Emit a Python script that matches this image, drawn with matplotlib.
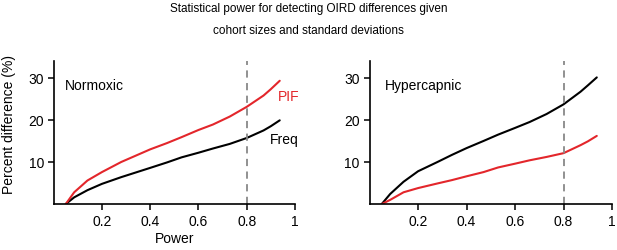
import matplotlib
matplotlib.use('Agg')
import matplotlib.pyplot as plt

# power values
power = [0.05, 0.085, 0.14, 0.2, 0.28, 0.34, 0.4, 0.47, 0.53, 0.6,
         0.66, 0.73, 0.8, 0.87, 0.9, 0.937]

normoxic_freq = [0.0, 1.6, 3.3, 4.8, 6.4, 7.5, 8.6, 9.9, 11.1, 12.2,
                 13.2, 14.3, 15.7, 17.5, 18.5, 19.9]
normoxic_pif  = [0.0, 2.8, 5.6, 7.6, 10.0, 11.5, 13.0, 14.5, 15.9, 17.6,
                 18.9, 20.8, 23.1, 25.8, 27.3, 29.3]

hyper_freq = [0.0, 2.4, 5.3, 7.8, 10.0, 11.7, 13.3, 15.0, 16.5, 18.1,
              19.5, 21.4, 23.7, 26.7, 28.2, 30.1]
hyper_pif  = [0.0, 1.0, 2.8, 3.8, 4.9, 5.7, 6.6, 7.6, 8.7, 9.6,
              10.4, 11.2, 12.1, 14.0, 14.9, 16.2]

x_ticks = [0.2, 0.4, 0.6, 0.8, 1.0]
x_tick_labels = ['0.2', '0.4', '0.6', '0.8', '1']
y_ticks = [10, 20, 30]
power_threshold = 0.8

RED = '#e3262b'

plt.rcParams.update({
    'font.family': ['Liberation Sans', 'DejaVu Sans'],
    'font.size': 10,
    'axes.linewidth': 1.2,
    'xtick.major.width': 1.1,
    'ytick.major.width': 1.1,
    'xtick.major.size': 4,
    'ytick.major.size': 4,
})

fig = plt.figure(figsize=(6.17, 2.51), dpi=100)
ax1 = fig.add_axes([0.087, 0.183, 0.391, 0.570])
ax2 = fig.add_axes([0.599, 0.183, 0.393, 0.570])

panels = [(ax1, normoxic_freq, normoxic_pif, 'Normoxic', 0.047),
          (ax2, hyper_freq, hyper_pif, 'Hypercapnic', 0.064)]

for ax, freq, pif, name, name_x in panels:
    ax.plot(power, freq, color='black', linewidth=1.5, solid_capstyle='round')
    ax.plot(power, pif, color=RED, linewidth=1.5, solid_capstyle='round')
    ax.axvline(power_threshold, color='#888888', linestyle=(0, (4, 3)), linewidth=1.3)
    ax.set_xlim(0, 1)
    ax.set_ylim(0, 34)
    ax.set_xticks(x_ticks)
    ax.set_xticklabels(x_tick_labels)
    ax.set_yticks(y_ticks)
    ax.spines['top'].set_visible(False)
    ax.spines['right'].set_visible(False)
    ax.tick_params(direction='out', pad=3, labelsize=10)
    ax.text(name_x, 28.2, name, fontsize=10, va='center', ha='left')

ax1.text(0.928, 25.7, 'PIF', color=RED, fontsize=10, va='center', ha='left')
ax1.text(0.895, 15.5, 'Freq', color='black', fontsize=10, va='center', ha='left')

ax1.set_xlabel('Power', fontsize=10, labelpad=2)
ax1.set_ylabel('Percent difference (%)', fontsize=10)
ax1.yaxis.set_label_coords(-0.158, 0.566)

fig.text(0.5, 0.963, 'Statistical power for detecting OIRD differences given',
         ha='center', va='center', fontsize=8.5)
fig.text(0.5, 0.876, 'cohort sizes and standard deviations',
         ha='center', va='center', fontsize=8.5)

fig.savefig('out.png', dpi=100)
